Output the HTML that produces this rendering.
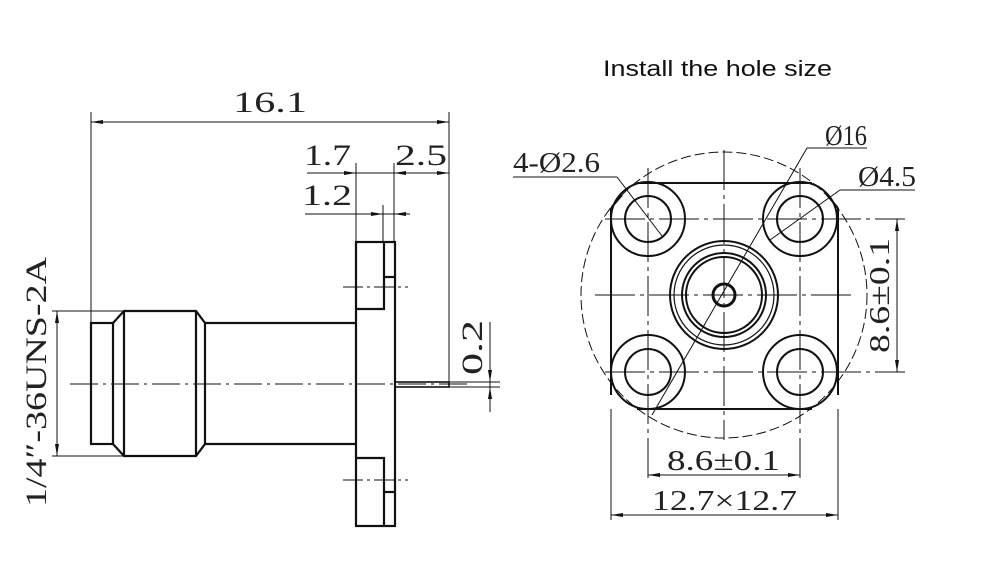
<!DOCTYPE html>
<html><head><meta charset="utf-8"><style>
html,body{margin:0;padding:0;background:#fff;}
svg{display:block}
.d{font-family:"Liberation Serif","Noto Serif CJK SC",serif;fill:#222;}
</style></head><body>
<svg width="1000" height="565" viewBox="0 0 1000 565" xmlns="http://www.w3.org/2000/svg">
<text x="603" y="76" font-family="Liberation Sans, sans-serif" font-size="22" fill="#111" textLength="229" lengthAdjust="spacingAndGlyphs">Install the hole size</text>

<!-- LEFT VIEW -->
<g stroke="#111" fill="none">
 <!-- thin dims -->
 <g stroke-width="1">
  <line x1="91" y1="112" x2="91" y2="323"/>
  <line x1="449" y1="112" x2="449" y2="386"/>
  <line x1="91" y1="122" x2="449" y2="122"/>
  <line x1="307" y1="173" x2="449" y2="173"/>
  <line x1="305" y1="214" x2="410" y2="214"/>
  <line x1="356" y1="163" x2="356" y2="242"/>
  <line x1="394" y1="163" x2="394" y2="242"/>
  <line x1="383" y1="205" x2="383" y2="242"/>
  <line x1="52" y1="311" x2="124" y2="311"/>
  <line x1="52" y1="456" x2="124" y2="456"/>
  <line x1="57" y1="311" x2="57" y2="456"/>
  <line x1="490" y1="322" x2="490" y2="412"/>
  <line x1="449" y1="382" x2="500" y2="382"/>
  <line x1="449" y1="387" x2="500" y2="387"/>
  <line x1="70" y1="384" x2="470" y2="384" stroke-dasharray="28,5,3,5"/>
  <line x1="343" y1="287" x2="408" y2="287" stroke-dasharray="20,4,3,4"/>
  <line x1="343" y1="480" x2="408" y2="480" stroke-dasharray="20,4,3,4"/>
 </g>
 <!-- arrows -->
 <g fill="#111" stroke="none">
  <polygon points="91,122 103,120 103,124"/><polygon points="449,122 437,120 437,124"/>
  <polygon points="356,173 344,171 344,175"/><polygon points="394,173 406,171 406,175"/><polygon points="449,173 437,171 437,175"/>
  <polygon points="383,214 371,212 371,216"/><polygon points="394,214 406,212 406,216"/>
  <polygon points="57,311 55,323 59,323"/><polygon points="57,456 55,444 59,444"/>
  <polygon points="490,382 488,370 492,370"/><polygon points="490,387 488,399 492,399"/>
 </g>
 <!-- body -->
 <g stroke-width="2.2">
  <rect x="91" y="323" width="22" height="121"/>
  <polyline points="113,323 124,311 196,311 205,323 205,444 196,456 124,456 113,444"/>
  <line x1="124" y1="311" x2="124" y2="456"/>
  <line x1="196" y1="311" x2="196" y2="456"/>
  <line x1="205" y1="323" x2="356" y2="323"/>
  <line x1="205" y1="444" x2="356" y2="444"/>
  <rect x="356" y="242" width="39" height="284"/>
  <polyline points="356,309 384,309 384,242"/>
  <line x1="384" y1="277" x2="395" y2="277"/>
  <polyline points="356,458 384,458 384,526"/>
  <line x1="384" y1="492" x2="395" y2="492"/>
  <rect x="395" y="382" width="54" height="5" stroke-width="1.6"/>
 </g>
</g>
<text class="d" x="233" y="112" font-size="30" textLength="74" lengthAdjust="spacingAndGlyphs">16.1</text>
<text class="d" x="304" y="165" font-size="30" textLength="47" lengthAdjust="spacingAndGlyphs">1.7</text>
<text class="d" x="395" y="165" font-size="30" textLength="52" lengthAdjust="spacingAndGlyphs">2.5</text>
<text class="d" x="302" y="205" font-size="30" textLength="50" lengthAdjust="spacingAndGlyphs">1.2</text>
<text class="d" font-size="30" transform="translate(46,507) rotate(-90)" textLength="250" lengthAdjust="spacingAndGlyphs">1/4″-36UNS-2A</text>
<text class="d" font-size="30" transform="translate(482,375) rotate(-90)" textLength="55" lengthAdjust="spacingAndGlyphs">0.2</text>

<!-- RIGHT VIEW -->
<g stroke="#111" fill="none">
 <g stroke-width="1">
  <circle cx="724" cy="295" r="143" stroke-dasharray="10,4"/>
  <line x1="605" y1="219" x2="905" y2="219" stroke-dasharray="40,5,4,5"/>
  <line x1="605" y1="372" x2="905" y2="372" stroke-dasharray="40,5,4,5"/>
  <line x1="595" y1="295" x2="855" y2="295" stroke-dasharray="40,5,4,5"/>
  <line x1="648" y1="168" x2="648" y2="480" stroke-dasharray="40,5,4,5"/>
  <line x1="800" y1="168" x2="800" y2="480" stroke-dasharray="40,5,4,5"/>
  <line x1="724" y1="150" x2="724" y2="440" stroke-dasharray="40,5,4,5"/>
  <line x1="611" y1="409" x2="611" y2="520"/>
  <line x1="838" y1="409" x2="838" y2="520"/>
  <line x1="648" y1="475" x2="800" y2="475"/>
  <line x1="611" y1="515" x2="838" y2="515"/>
  <line x1="897" y1="219" x2="897" y2="372"/>
  <line x1="513" y1="177" x2="617" y2="177"/>
  <line x1="617" y1="177" x2="662" y2="236"/>
  <line x1="807" y1="148" x2="867" y2="148"/>
  <line x1="807" y1="148" x2="652" y2="415"/>
  <line x1="840" y1="190" x2="915" y2="190"/>
  <line x1="840" y1="190" x2="770" y2="240"/>
 </g>
 <g fill="#111" stroke="none">
  <polygon points="648,475 660,473 660,477"/><polygon points="800,475 788,473 788,477"/>
  <polygon points="611,515 623,513 623,517"/><polygon points="838,515 826,513 826,517"/>
  <polygon points="897,219 895,231 899,231"/><polygon points="897,372 895,360 899,360"/>
 </g>
 <g stroke-width="2">
  <polyline points="637,183 812,183"/>
  <polyline points="611,208 611,395"/>
  <polyline points="838,208 838,395"/>
  <polyline points="637,409 812,409"/>
  <line x1="611" y1="208" x2="622" y2="195"/>
  <line x1="838" y1="208" x2="827" y2="195"/>
  <circle cx="648" cy="219" r="37"/><circle cx="800" cy="219" r="37"/>
  <circle cx="648" cy="372" r="37"/><circle cx="800" cy="372" r="37"/>
  <circle cx="648" cy="219" r="23"/><circle cx="800" cy="219" r="23"/>
  <circle cx="648" cy="372" r="23"/><circle cx="800" cy="372" r="23"/>
  <circle cx="724" cy="295" r="54"/>
  <circle cx="724" cy="295" r="50" stroke-width="1.2"/>
  <circle cx="724" cy="295" r="42"/>
  <circle cx="724" cy="295" r="38"/>
  <circle cx="724" cy="295" r="11" stroke-width="3"/>
 </g>
</g>
<text class="d" x="513" y="172" font-size="28" textLength="87" lengthAdjust="spacingAndGlyphs">4-Ø2.6</text>
<text class="d" x="825" y="145" font-size="28" textLength="42" lengthAdjust="spacingAndGlyphs">Ø16</text>
<text class="d" x="858" y="186" font-size="28" textLength="58" lengthAdjust="spacingAndGlyphs">Ø4.5</text>
<text class="d" x="667" y="470" font-size="28" textLength="113" lengthAdjust="spacingAndGlyphs">8.6±0.1</text>
<text class="d" x="652" y="510" font-size="28" textLength="145" lengthAdjust="spacingAndGlyphs">12.7×12.7</text>
<text class="d" font-size="28" transform="translate(889,353) rotate(-90)" textLength="115" lengthAdjust="spacingAndGlyphs">8.6±0.1</text>
</svg>
</body></html>
